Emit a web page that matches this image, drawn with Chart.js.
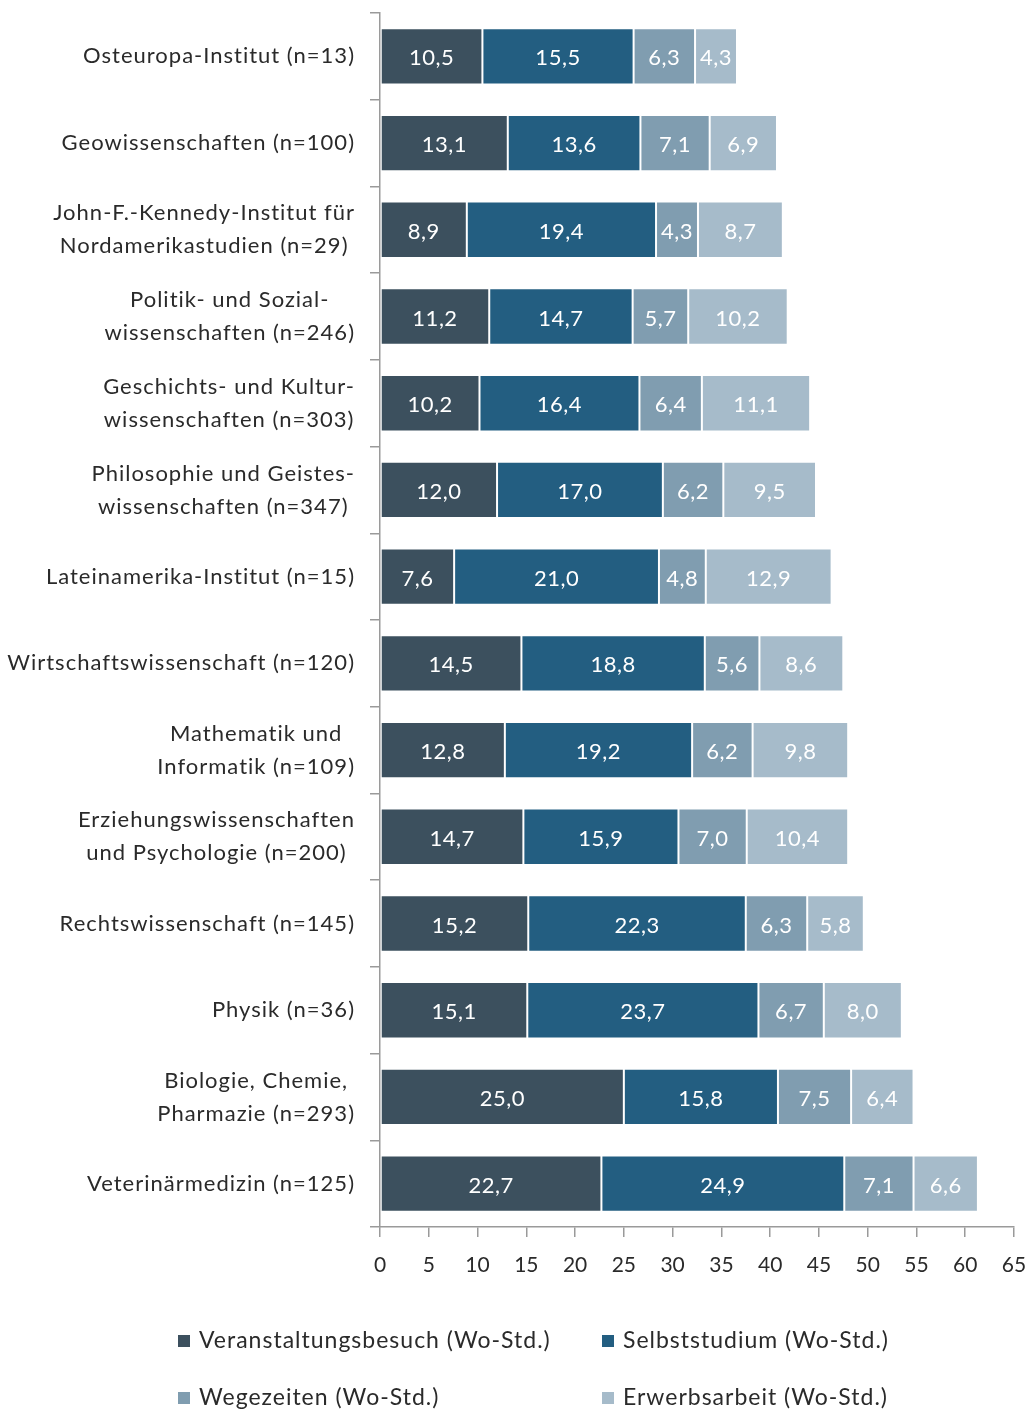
<!DOCTYPE html>
<html lang="de">
<head>
<meta charset="utf-8">
<title>Wochenstunden nach Fachbereich</title>
<script src="https://cdn.jsdelivr.net/npm/chart.js@4/dist/chart.umd.min.js"></script>
<style>
    html, body { margin: 0; padding: 0; background: #fff; }
    #wrap { width: 1034px; height: 1414px; position: relative; }
</style>
</head>
<body>
<div id="wrap"><canvas id="stundenChart" width="1034" height="1414"></canvas></div>
<script>
// Fachbereiche (mehrzeilige Beschriftung als Array)
var fachbereiche = [
    ["Osteuropa-Institut (n=13)"],
    ["Geowissenschaften (n=100)"],
    ["John-F.-Kennedy-Institut für", "Nordamerikastudien (n=29)"],
    ["Politik- und Sozial-", "wissenschaften (n=246)"],
    ["Geschichts- und Kultur-", "wissenschaften (n=303)"],
    ["Philosophie und Geistes-", "wissenschaften (n=347)"],
    ["Lateinamerika-Institut (n=15)"],
    ["Wirtschaftswissenschaft (n=120)"],
    ["Mathematik und", "Informatik (n=109)"],
    ["Erziehungswissenschaften", "und Psychologie (n=200)"],
    ["Rechtswissenschaft (n=145)"],
    ["Physik (n=36)"],
    ["Biologie, Chemie,", "Pharmazie (n=293)"],
    ["Veterinärmedizin (n=125)"]
];

var veranstaltungen = [10.5, 13.1, 8.9, 11.2, 10.2, 12.0, 7.6, 14.5, 12.8, 14.7, 15.2, 15.1, 25.0, 22.7];
var selbststudium   = [15.5, 13.6, 19.4, 14.7, 16.4, 17.0, 21.0, 18.8, 19.2, 15.9, 22.3, 23.7, 15.8, 24.9];
var wegezeiten      = [6.3, 7.1, 4.3, 5.7, 6.4, 6.2, 4.8, 5.6, 6.2, 7.0, 6.3, 6.7, 7.5, 7.1];
var erwerbsarbeit   = [4.3, 6.9, 8.7, 10.2, 11.1, 9.5, 12.9, 8.6, 9.8, 10.4, 5.8, 8.0, 6.4, 6.6];

var xTicks = [0, 5, 10, 15, 20, 25, 30, 35, 40, 45, 50, 55, 60, 65];

var serien = [
    { label: "Veranstaltungsbesuch (Wo-Std.)", data: veranstaltungen, color: "#3c505e" },
    { label: "Selbststudium (Wo-Std.)", data: selbststudium, color: "#235e81" },
    { label: "Wegezeiten (Wo-Std.)", data: wegezeiten, color: "#809db0" },
    { label: "Erwerbsarbeit (Wo-Std.)", data: erwerbsarbeit, color: "#a6bbca" }
];

var FONT = "Lato, 'Open Sans', sans-serif";
var TEXT = "#2a2a2a";
var AXIS = "#9a9a9a";

function formatDe(v) {
    return v.toFixed(1).replace(".", ",");
}

// Kategorie-Beschriftung: Zeilen zueinander zentriert, Block rechtsbündig
var yLabelPlugin = {
    id: "yLabels",
    afterDraw: function (chart) {
        var ctx = chart.ctx;
        var y = chart.scales.y;
        var right = chart.chartArea.left - 25;
        var lh = 33;
        ctx.save();
        ctx.font = "22px " + FONT;
        ctx.letterSpacing = "1px";
        ctx.fillStyle = TEXT;
        ctx.textBaseline = "middle";
        ctx.textAlign = "center";
        fachbereiche.forEach(function (lines, i) {
            var cy = y.getPixelForTick(i);
            var w = Math.max.apply(null, lines.map(function (l) { return ctx.measureText(l).width; }));
            var cx = right - w / 2;
            var y0 = cy - (lines.length - 1) * lh / 2;
            lines.forEach(function (l, k) {
                ctx.fillText(l, cx, y0 + k * lh);
            });
        });
        ctx.restore();
    }
};

// Zahlenwerte mittig in die Balkensegmente schreiben
var valuePlugin = {
    id: "barValues",
    afterDatasetsDraw: function (chart) {
        var ctx = chart.ctx;
        ctx.save();
        ctx.font = "22px " + FONT;
        ctx.letterSpacing = "0.5px";
        ctx.fillStyle = "#ffffff";
        ctx.textAlign = "center";
        ctx.textBaseline = "middle";
        chart.data.datasets.forEach(function (ds, di) {
            var meta = chart.getDatasetMeta(di);
            meta.data.forEach(function (bar, i) {
                var cx = (bar.x + bar.base) / 2;
                ctx.fillText(formatDe(ds.data[i]), cx, bar.y + 2);
            });
        });
        ctx.restore();
    }
};

// Legende in zwei Spalten unter der Achse
var legendPlugin = {
    id: "twoColLegend",
    afterDraw: function (chart) {
        var ctx = chart.ctx;
        var cols = [178, 602];
        var rows = [1341, 1398];
        ctx.save();
        ctx.font = "23px " + FONT;
        ctx.letterSpacing = "1px";
        ctx.textBaseline = "middle";
        ctx.textAlign = "left";
        serien.forEach(function (s, i) {
            var x = cols[i % 2];
            var y = rows[Math.floor(i / 2)];
            ctx.fillStyle = s.color;
            ctx.fillRect(x, y - 6, 12, 12);
            ctx.fillStyle = TEXT;
            ctx.fillText(s.label, x + 21, y);
        });
        ctx.restore();
    }
};

var ctx = document.getElementById("stundenChart").getContext("2d");
var stundenChart = new Chart(ctx, {
    type: "bar",
    data: {
        labels: fachbereiche,
        datasets: serien.map(function (s) {
            return {
                label: s.label,
                data: s.data,
                backgroundColor: s.color,
                borderColor: "#ffffff",
                borderWidth: 1,
                borderSkipped: false,
                barPercentage: 0.65,
                categoryPercentage: 1.0
            };
        })
    },
    options: {
        indexAxis: "y",
        responsive: false,
        animation: false,
        devicePixelRatio: 1,
        layout: { padding: { left: 0, top: 13, right: 20, bottom: 130 } },
        plugins: {
            legend: { display: false },
            tooltip: { enabled: false }
        },
        scales: {
            x: {
                stacked: true,
                min: 0,
                max: 65,
                afterBuildTicks: function (scale) {
                    scale.ticks = xTicks.map(function (v) { return { value: v }; });
                },
                afterFit: function (scale) {
                    scale.height = 57;
                    scale.paddingLeft = 0;
                    scale.paddingRight = 0;
                },
                border: { color: AXIS, width: 1.5 },
                grid: { drawOnChartArea: false, color: AXIS, tickLength: 10, lineWidth: 1.5 },
                ticks: {
                    color: TEXT,
                    font: { family: FONT, size: 21 },
                    padding: 16,
                    maxRotation: 0
                }
            },
            y: {
                stacked: true,
                afterFit: function (scale) { scale.width = 380; },
                border: { color: AXIS, width: 1.5 },
                grid: { drawOnChartArea: false, color: AXIS, tickLength: 10, lineWidth: 1.5, offset: true },
                ticks: { display: false }
            }
        }
    },
    plugins: [yLabelPlugin, valuePlugin, legendPlugin]
});
</script>
</body>
</html>
